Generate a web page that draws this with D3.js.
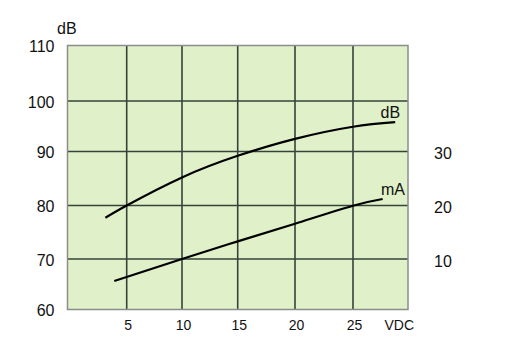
<!DOCTYPE html>
<html><head><meta charset="utf-8">
<script src="https://cdn.jsdelivr.net/npm/d3@7"></script>
<style>body{margin:0;background:#fff}svg{display:block}text{font-family:"Liberation Sans",Arial,sans-serif;fill:#111}</style>
</head><body><svg id="c" width="508" height="363"></svg>
<script>
// Tick values
const xTicks = [5, 10, 15, 20, 25];
const dbTicks = [60, 70, 80, 90, 100, 110];
const maTicks = [10, 20, 30];
// dB curve (VDC, dB)
const dbVdc = [3.2, 5, 10, 15, 20, 25, 28.7];
const dbVal = [77.7, 80, 85.2, 89.2, 92.5, 94.9, 95.8];
// mA curve (VDC, mA)
const maVdc = [3.95, 10, 15, 20, 25, 27.6];
const maVal = [5.65, 10, 13.3, 16.6, 19.95, 21.2];

const svg = d3.select("#c");
const L = 67.5, R = 408, T = 45.5, B = 309.5;
const x = d3.scaleLinear().domain([0, 5, 10, 15, 20, 25, 30]).range([L, 126.7, 182, 237.7, 295, 353, 410]);
const y = d3.scaleLinear().domain([60, 70, 80, 90, 100, 110]).range([B, 259, 205.5, 151.5, 101, T]);
const yMA = d3.scaleLinear().domain([0, 10, 20, 30, 40, 50]).range([B, 259, 205.5, 151.5, 101, T]);

svg.append("rect").attr("x", L).attr("y", T).attr("width", R - L).attr("height", B - T).attr("fill", "#e0f0c8");

const g = svg.append("g");
g.selectAll("line.v").data(xTicks).join("line")
  .attr("x1", d => x(d)).attr("x2", d => x(d)).attr("y1", T).attr("y2", B)
  .attr("stroke", "#34443a").attr("stroke-width", 1.6);
g.selectAll("line.h").data(dbTicks.filter(d => d > 60 && d < 110)).join("line")
  .attr("x1", L).attr("x2", R).attr("y1", d => y(d)).attr("y2", d => y(d))
  .attr("stroke", "#34443a").attr("stroke-width", 1.6);

svg.append("rect").attr("x", L).attr("y", T).attr("width", R - L).attr("height", B - T)
  .attr("fill", "none").attr("stroke", "#8c8c8c").attr("stroke-width", 1.5);

const line = d3.line().curve(d3.curveNatural);
svg.append("path").attr("d", line(dbVdc.map((v, i) => [x(v), y(dbVal[i])])))
  .attr("fill", "none").attr("stroke", "#000").attr("stroke-width", 2.2);
svg.append("path").attr("d", line(maVdc.map((v, i) => [x(v), yMA(maVal[i])])))
  .attr("fill", "none").attr("stroke", "#000").attr("stroke-width", 2.2);

// Left axis labels
svg.selectAll("text.l").data(dbTicks).join("text")
  .attr("x", 54.5).attr("y", d => y(d) + 6.5).attr("text-anchor", "end")
  .attr("font-size", 16).text(d => d);
// Right axis labels
svg.selectAll("text.r").data(maTicks).join("text")
  .attr("x", 434).attr("y", d => yMA(d) + 7.5)
  .attr("font-size", 16).text(d => d);
// Bottom labels
svg.selectAll("text.b").data(xTicks).join("text")
  .attr("x", d => x(d) + 1.5).attr("y", 330).attr("text-anchor", "middle")
  .attr("font-size", 14).text(d => d);

svg.append("text").attr("x", 384.5).attr("y", 330).attr("font-size", 14).text("VDC");
svg.append("text").attr("x", 57).attr("y", 34.3).attr("font-size", 16).text("dB");
svg.append("text").attr("x", 380.5).attr("y", 118.3).attr("font-size", 16).text("dB");
svg.append("text").attr("x", 381).attr("y", 195.3).attr("font-size", 16).text("mA");
</script></body></html>
